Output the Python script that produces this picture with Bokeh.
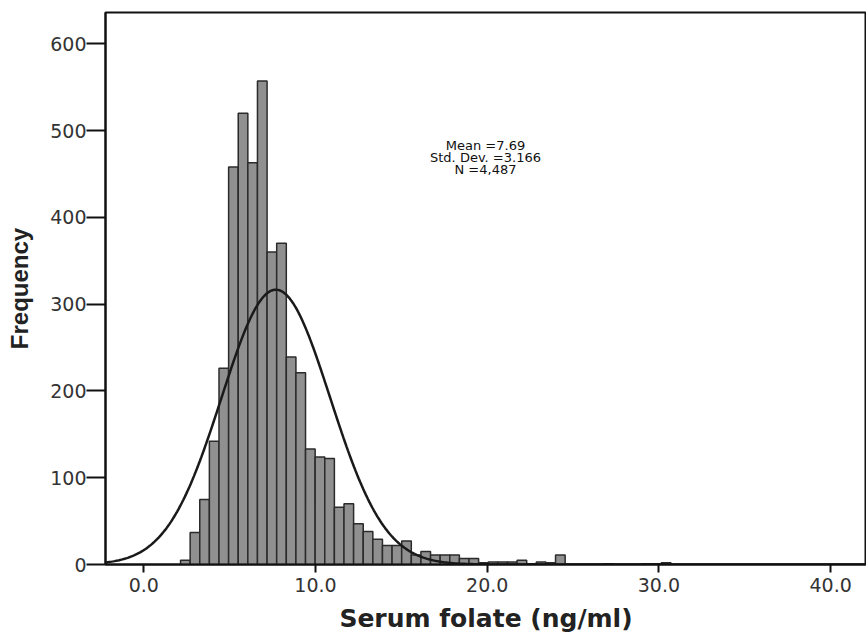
import numpy as np
from bokeh.plotting import figure
from bokeh.models import Range1d, FixedTicker, Label, ColumnDataSource
from bokeh.embed import file_html
from bokeh.resources import INLINE

# ---- data ----
BIN_START = 2.14
BIN_WIDTH = 0.56
COUNTS = [5, 37, 75, 142, 226, 458, 520, 463, 557, 360,
          370, 239, 221, 133, 124, 122, 66, 70, 47, 38,
          29, 22, 22, 27, 11, 15, 11, 11, 11, 7,
          7, 2, 3, 3, 3, 5, 1, 3, 2, 11,
          0, 0, 0, 0, 1, 0, 0, 0, 1, 1, 2]
MEAN = 7.69
STD_DEV = 3.166
N_TOTAL = 4487
X_TICKS = [0, 10, 20, 30, 40]
X_TICK_LABELS = ["0.0", "10.0", "20.0", "30.0", "40.0"]
Y_TICKS = [0, 100, 200, 300, 400, 500, 600]
STATS_LINES = ["Mean =7.69", "Std. Dev. =3.166", "N =4,487"]
X_LABEL = "Serum folate (ng/ml)"
Y_LABEL = "Frequency"

X_MIN, X_MAX = -2.23, 42.09
Y_MIN, Y_MAX = 0, 636

lefts, rights, tops = [], [], []
for k, c in enumerate(COUNTS):
    if c > 0:
        l = BIN_START + k * BIN_WIDTH
        lefts.append(l)
        rights.append(l + BIN_WIDTH)
        tops.append(c)
bars = ColumnDataSource(dict(left=lefts, right=rights, top=tops, bottom=[0] * len(tops)))

# fitted normal curve from the chart's stated statistics
xs = np.linspace(X_MIN, X_MAX, 500)
ys = N_TOTAL * BIN_WIDTH / (STD_DEV * np.sqrt(2 * np.pi)) * np.exp(-0.5 * ((xs - MEAN) / STD_DEV) ** 2)

p = figure(width=866, height=640, output_backend="svg", toolbar_location=None,
           x_range=Range1d(X_MIN, X_MAX), y_range=Range1d(Y_MIN, Y_MAX),
           min_border_left=105, min_border_top=12, min_border_bottom=76, min_border_right=0)
p.background_fill_color = "white"
p.border_fill_color = "white"
p.outline_line_color = "#111111"
p.outline_line_width = 2
p.xgrid.visible = False
p.ygrid.visible = False

p.quad(left="left", right="right", top="top", bottom="bottom", source=bars,
       fill_color="#909090", line_color="#2b2b2b", line_width=1.5)
p.line(xs, ys, line_color="#1a1a1a", line_width=2.5)

p.xaxis.ticker = FixedTicker(ticks=X_TICKS)
p.xaxis.major_label_overrides = {t: s for t, s in zip(X_TICKS, X_TICK_LABELS)}
p.yaxis.ticker = FixedTicker(ticks=Y_TICKS)

for ax in (p.xaxis[0], p.yaxis[0]):
    ax.axis_line_color = "#111111"
    ax.axis_line_width = 2
    ax.major_tick_line_color = "#111111"
    ax.major_tick_line_width = 2
    ax.major_tick_in = 0
    ax.minor_tick_line_color = None
    ax.major_label_text_font = "DejaVu Sans"
    ax.major_label_text_font_size = "19px"
    ax.major_label_text_color = "#333333"
    ax.axis_label_text_font_style = "bold"
    ax.axis_label_text_color = "#222222"

p.xaxis.major_tick_out = 8
p.yaxis.major_tick_out = 19
p.xaxis.major_label_standoff = 5
p.yaxis.major_label_standoff = 0

p.xaxis.axis_label = X_LABEL
p.xaxis.axis_label_text_font = "DejaVu Sans"
p.xaxis.axis_label_text_font_size = "25px"
p.xaxis.axis_label_standoff = 9

p.yaxis.axis_label = Y_LABEL
p.yaxis.axis_label_text_font = "Liberation Sans"
p.yaxis.axis_label_text_font_size = "24px"
p.yaxis.axis_label_standoff = 14

stat_x = 19.9
stat_ys = [483, 469, 455]
for txt, yy in zip(STATS_LINES, stat_ys):
    p.add_layout(Label(x=stat_x, y=yy, text=txt, text_align="center", text_baseline="middle",
                       text_font="DejaVu Sans", text_font_size="13px", text_color="#111111"))

open("out.html", "w").write(file_html(p, INLINE))
